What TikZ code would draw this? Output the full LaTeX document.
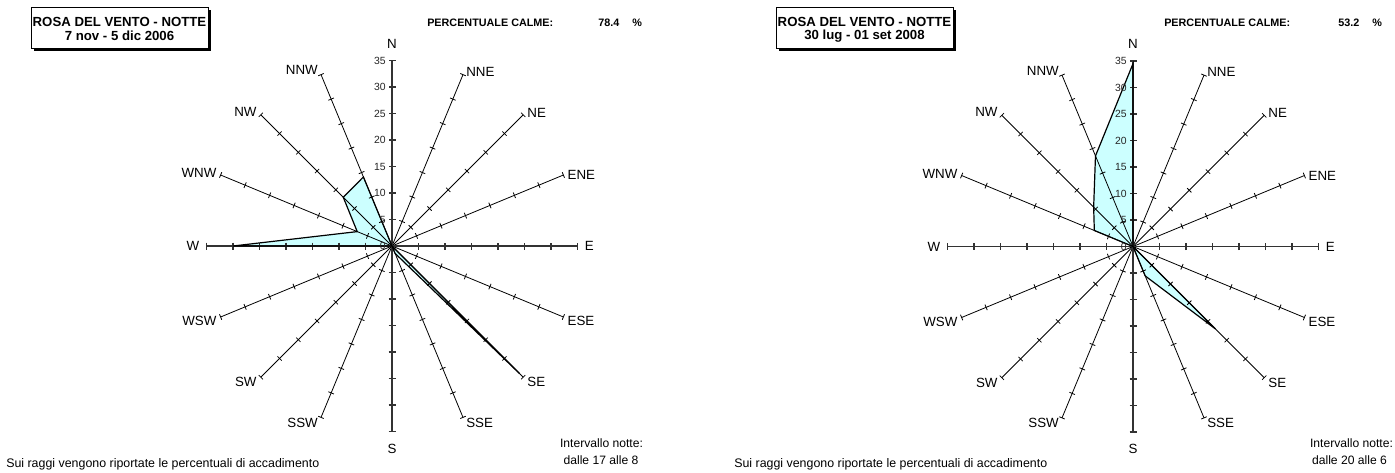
\documentclass[tikz,border=0pt]{standalone}
\usepackage{fontspec}
\setmainfont{Liberation Sans}
\usetikzlibrary{calc}
\definecolor{cyanlt}{RGB}{204,255,255}
\tikzset{
  spoke/.style={line width=0.6pt, black},
  mainax/.style={line width=0.9pt, black!80},
  dirlab/.style={font=\fontsize{10}{12}\selectfont, inner sep=0pt},
  numlab/.style={font=\fontsize{7.8}{9}\selectfont, inner sep=0pt, text=black!85, anchor=east},
  roseline/.style={draw=black, line width=0.9pt, line join=miter},
  pclab/.style={font=\bfseries\fontsize{8.1}{10}\selectfont, inner sep=0pt, anchor=west},
  titlab/.style={font=\bfseries\fontsize{9.9}{12}\selectfont, inner sep=0pt},
  notelab/.style={font=\fontsize{9.1}{11}\selectfont, inner sep=0pt},
  footlab/.style={font=\fontsize{9.3}{11}\selectfont, inner sep=0pt, anchor=west},
}
\newcommand\drawrose[4]{%
  \coordinate (#1c) at (#2,#3);
  \foreach \v [count=\i from 0] in {#4} {
    \pgfmathsetmacro\ang{22.5*\i-90}
    \coordinate (#1p\i) at ($(#1c)+(\ang:{\v*5.3})$);
  }
  \fill[cyanlt] (#1p0) \foreach \i in {1,...,15} { -- (#1p\i) } -- cycle;
  \foreach \k in {1,2,3,5,6,7,9,10,11,13,14,15} {
    \pgfmathsetmacro\ang{22.5*\k-90}
    \coordinate (#1e\k) at ($(#1c)+(\ang:185.5)$);
    \draw[spoke] (#1c) -- (#1e\k);
    \foreach \v in {5,10,...,35} {
      \draw[spoke] ($(#1c)+(\ang:{\v*5.3})+({\ang+90}:3)$) -- ($(#1c)+(\ang:{\v*5.3})+({\ang-90}:3)$);
    }
  }
  \foreach \k in {0,4,8,12} {
    \pgfmathsetmacro\ang{22.5*\k-90}
    \coordinate (#1e\k) at ($(#1c)+(\ang:185.5)$);
    \draw[mainax] (#1c) -- (#1e\k);
    \foreach \v in {5,10,...,35} {
      \draw[mainax] ($(#1c)+(\ang:{\v*5.3})+({\ang+90}:3.5)$) -- ($(#1c)+(\ang:{\v*5.3})+({\ang-90}:3.5)$);
    }
  }
  \draw[roseline] (#1p0) \foreach \i in {1,...,15} { -- (#1p\i) } -- cycle;
  \foreach \k/\lab/\anc/\dx/\dy in {0/N/south/0/-12, 1/NNE/west/3/-3, 2/NE/west/4/-2, 3/ENE/west/4/0,
      4/E/west/7/0, 5/ESE/west/4/4, 6/SE/west/4/5, 7/SSE/west/3/5.5,
      8/S/north/0/12, 9/SSW/east/-3/5.5, 10/SW/east/-4/5, 11/WSW/east/-4/4,
      12/W/east/-7/0, 13/WNW/east/-4/-2, 14/NW/east/-4/-3, 15/NNW/east/-3/-4.5} {
    \node[dirlab, anchor=\anc] (#1l\k) at ($(#1e\k)+(\dx,\dy)$) {\lab};
  }
  \foreach \v in {0,5,...,35} {
    \node[numlab] (#1n\v) at ($(#1c)+(-6,{-\v*5.3})$) {\v};
  }
}
\begin{document}
\begin{tikzpicture}[x=0.75pt,y=-0.75pt]
\useasboundingbox (0,0) rectangle (1395,472);
\fill[white] (0,0) rectangle (1395,472);

% ---------- left chart ----------
\fill[black] (33.5,9.5) rectangle (210.5,50.5);
\filldraw[fill=white, draw=black, line width=0.75pt] (31,7) rectangle (208,48);
\node[titlab] (t1a) at (119.5,22) {ROSA DEL VENTO - NOTTE};
\node[titlab] (t1b) at (119.5,36) {7 nov - 5 dic 2006};
\node[pclab] (pc1) at (427,22.5) {PERCENTUALE CALME:};
\node[pclab] (pv1) at (598,22.5) {78.4};
\node[pclab] (pp1) at (632,22.5) {\%};
\drawrose{a}{392}{246}{0,0,0,0,0,0,34,1.5,0,0,0,0,30,7.1,13,14.1}
\node[notelab] (i1a) at (601.5,443) {Intervallo notte:};
\node[notelab] (i1b) at (601,460) {dalle 17 alle 8};
\node[footlab] (f1) at (6,464) {Sui raggi vengono riportate le percentuali di accadimento};

% ---------- right chart ----------
\fill[black] (778.5,9.5) rectangle (955.5,50.5);
\filldraw[fill=white, draw=black, line width=0.75pt] (776,7) rectangle (953,48);
\node[titlab] (t2a) at (864.5,22) {ROSA DEL VENTO - NOTTE};
\node[titlab] (t2b) at (864.5,36) {30 lug - 01 set 2008};
\node[pclab] (pc2) at (1164,22.5) {PERCENTUALE CALME:};
\node[pclab] (pv2) at (1338,22.5) {53.2};
\node[pclab] (pp2) at (1372,22.5) {\%};
\drawrose{b}{1133}{246.5}{34.5,0,0,0,0,0,22,6,0,0,0,0,0,7.9,10.5,18.5}
\node[notelab] (i2a) at (1351.5,443) {Intervallo notte:};
\node[notelab] (i2b) at (1349.5,460) {dalle 20 alle 6};
\node[footlab] (f2) at (734,464) {Sui raggi vengono riportate le percentuali di accadimento};
\end{tikzpicture}
\end{document}
